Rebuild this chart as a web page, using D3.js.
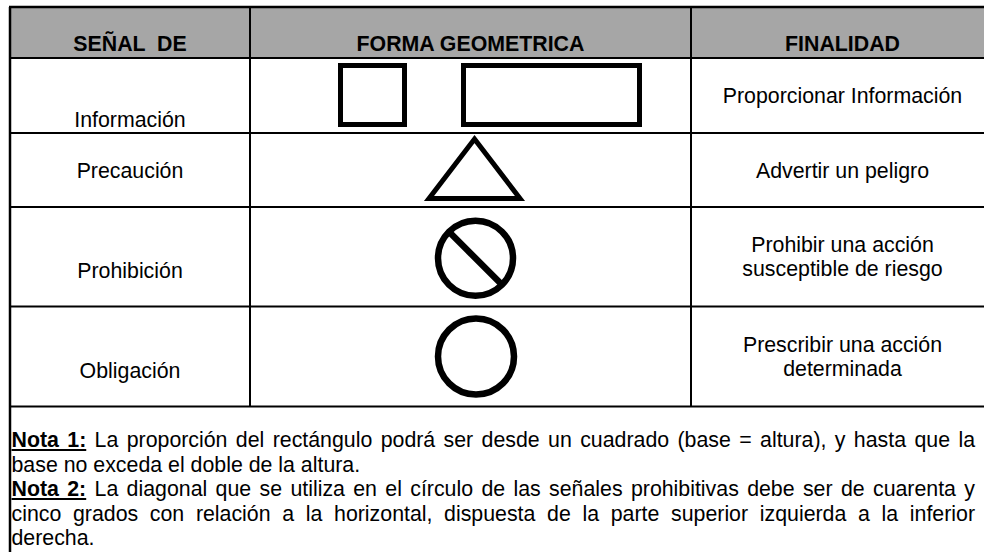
<!DOCTYPE html>
<html><head><meta charset="utf-8">
<script src="https://cdn.jsdelivr.net/npm/d3@7"></script>
<style>
html,body{margin:0;padding:0;background:#fff;}
svg{display:block;font-family:"Liberation Sans",Arial,sans-serif;}
</style></head>
<body><div id="chart"></div>
<script>
// ---- data ----
const headers = ["SEÑAL  DE", "FORMA GEOMETRICA", "FINALIDAD"];
const signals = ["Información", "Precaución", "Prohibición", "Obligación"];
const shapes = ["rectangulo", "triangulo", "circulo-diagonal", "circulo"];
const purposes = [
  ["Proporcionar Información"],
  ["Advertir un peligro"],
  ["Prohibir una acción", "susceptible de riesgo"],
  ["Prescribir una acción", "determinada"]
];
const noteLabels = ["Nota 1:", "Nota 2:"];
const noteLines = [
  ["La proporción del rectángulo podrá ser desde un cuadrado (base = altura), y hasta que la",
   "base no exceda el doble de la altura."],
  ["La diagonal que se utiliza en el círculo de las señales prohibitivas debe ser de cuarenta y",
   "cinco grados con relación a la horizontal, dispuesta de la parte superior izquierda a la inferior",
   "derecha."]
];

// ---- layout ----
const W = 984, H = 552;
const colEdges = [10, 250, 691, 994];
const rowEdges = [7, 58, 133, 207, 306.5, 406.5, 600];
const FS = 21.33, NFS = 21.33;
const svg = d3.select("#chart").append("svg").attr("width", W).attr("height", H);

const col = i => ({x0: colEdges[i], x1: colEdges[i+1], cx: (colEdges[i]+colEdges[i+1])/2});
const row = i => ({y0: rowEdges[i], y1: rowEdges[i+1], cy: (rowEdges[i]+rowEdges[i+1])/2});

// header fill
svg.append("rect").attr("x", colEdges[0]).attr("y", rowEdges[0])
  .attr("width", colEdges[3]-colEdges[0]).attr("height", rowEdges[1]-rowEdges[0])
  .attr("fill", "#a6a6a6");

// header text
svg.selectAll("text.h").data(headers).join("text").attr("class","h")
  .attr("x", (d,i) => col(i).cx).attr("y", rowEdges[1] - 7)
  .attr("text-anchor","middle").attr("font-weight","bold").attr("font-size", FS)
  .attr("fill","#000").style("white-space","pre").text(d => d);

// column 1 labels
const labelY = (i) => i === 0 ? row(i+1).y1 - 6 : row(i+1).y1 - 29;
svg.selectAll("text.sig").data(signals).join("text").attr("class","sig")
  .attr("x", col(0).cx).attr("y", (d,i) => labelY(i))
  .attr("text-anchor","middle").attr("font-size", FS).attr("fill","#000").text(d => d);

// column 3 purposes
const LH = 24;
purposes.forEach((lines, i) => {
  const r = row(i+1);
  const startY = r.cy - (lines.length-1)*LH/2 + 7.5;
  svg.append("g").selectAll("text").data(lines).join("text")
    .attr("x", col(2).cx).attr("y", (d,k) => startY + k*LH)
    .attr("text-anchor","middle").attr("font-size", FS).attr("fill","#000").text(d => d);
});

// shapes
const g = svg.append("g").attr("fill","none").attr("stroke","#000");
shapes.forEach((s, i) => {
  const r = row(i+1);
  if (s === "rectangulo") {
    const h = 59, sw = 5, y = r.y0 + 7.5;
    g.append("rect").attr("x", 340.5).attr("y", y).attr("width", h+5).attr("height", h).attr("stroke-width", sw);
    g.append("rect").attr("x", 463.5).attr("y", y).attr("width", 176).attr("height", h).attr("stroke-width", sw);
  } else if (s === "triangulo") {
    const cx = 474.5, top = r.y0 + 6, bot = r.y1 - 8.5, half = 45.5;
    g.append("path").attr("d", d3.line()([[cx, top],[cx+half, bot],[cx-half, bot]]) + "Z")
      .attr("stroke-width", 5).attr("stroke-linejoin","miter");
  } else if (s === "circulo-diagonal") {
    const cx = 475.5, cy = r.cy + 1.5, rad = 37.5;
    g.append("circle").attr("cx", cx).attr("cy", cy).attr("r", rad).attr("stroke-width", 6.5);
    const k = rad * Math.SQRT1_2;
    g.append("line").attr("x1", cx-k).attr("y1", cy-k).attr("x2", cx+k).attr("y2", cy+k).attr("stroke-width", 6.5);
  } else {
    const cx = 476, cy = r.cy, rad = 38;
    g.append("circle").attr("cx", cx).attr("cy", cy).attr("r", rad).attr("stroke-width", 6.5);
  }
});

// notes (justified)
const notesG = svg.append("g").attr("font-size", NFS).attr("fill","#000");
const left = 11.5, right = 975, NLH = 24.5;
let y = 447;
noteLines.forEach((lines, p) => {
  lines.forEach((line, li) => {
    const words = line.split(" ");
    const tokens = [];
    if (li === 0) {
      noteLabels[p].split(" ").forEach(w => tokens.push({t: w, bold: true}));
    }
    words.forEach(w => tokens.push({t: w, bold: false}));
    const tmp = notesG.append("g");
    const widths = tokens.map(tk => {
      const t = tmp.append("text").attr("font-weight", tk.bold ? "bold" : null).text(tk.t);
      return t.node().getComputedTextLength();
    });
    const spT = tmp.append("text").style("white-space","pre").text("a a");
    const spA = tmp.append("text").text("aa");
    const spaceW = spT.node().getComputedTextLength() - spA.node().getComputedTextLength();
    tmp.remove();
    const total = d3.sum(widths);
    const last = li === lines.length - 1;
    const gap = last ? spaceW : (right - left - total) / (tokens.length - 1);
    let x = left;
    tokens.forEach((tk, k) => {
      notesG.append("text").attr("x", x).attr("y", y)
        .attr("font-weight", tk.bold ? "bold" : null).text(tk.t);
      tk.x0 = x; tk.x1 = x + widths[k];
      x += widths[k] + gap;
    });
    if (li === 0) {
      const nb = noteLabels[p].split(" ").length;
      notesG.append("line").attr("x1", tokens[0].x0).attr("x2", tokens[nb-1].x1)
        .attr("y1", y + 3).attr("y2", y + 3).attr("stroke","#000").attr("stroke-width", 2);
    }
    y += NLH;
  });
});

// grid lines
const lines = svg.append("g").attr("stroke","#000");
rowEdges.slice(0, 6).forEach((yy, i) => {
  lines.append("line").attr("x1", colEdges[0]-1).attr("x2", colEdges[3]).attr("y1", yy).attr("y2", yy)
    .attr("stroke-width", i === 0 ? 2.5 : 2);
});
lines.append("line").attr("x1", colEdges[0]).attr("x2", colEdges[0]).attr("y1", rowEdges[0]).attr("y2", H)
  .attr("stroke-width", 2.5);
[1, 2].forEach(c => lines.append("line").attr("x1", colEdges[c]).attr("x2", colEdges[c])
  .attr("y1", rowEdges[0]).attr("y2", rowEdges[5]).attr("stroke-width", 2));
</script></body></html>
